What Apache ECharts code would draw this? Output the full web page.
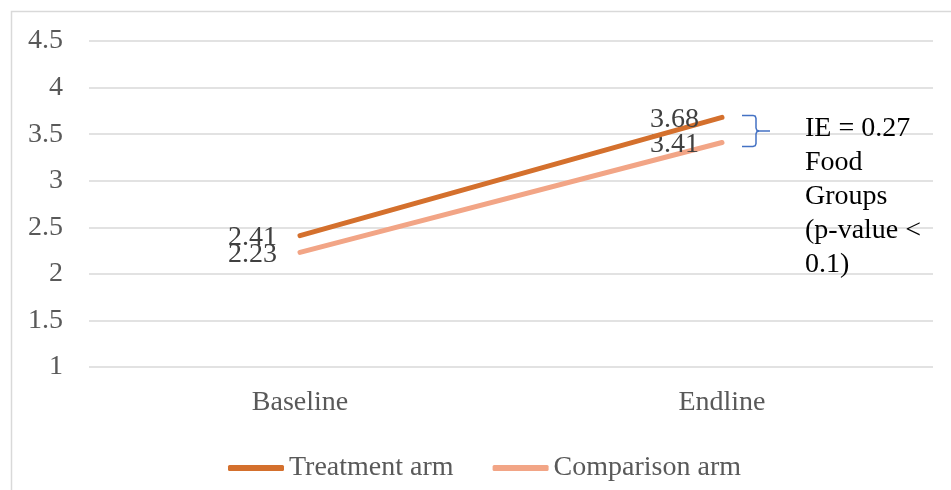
<!DOCTYPE html>
<html>
<head>
<meta charset="utf-8">
<script src="https://cdn.jsdelivr.net/npm/echarts@6/dist/echarts.min.js"></script>
<style>
html,body{margin:0;padding:0;background:#fff;}
#chart{width:951px;height:490px;}
</style>
</head>
<body>
<div id="chart"></div>
<script>
var categories = ['Baseline', 'Endline'];
var treatmentValues = [2.41, 3.68];
var comparisonValues = [2.23, 3.41];
var seriesNames = ['Treatment arm', 'Comparison arm'];
var annotationLines = ['IE = 0.27', 'Food', 'Groups', '(p-value <', '0.1)'];

var FONT = '"Liberation Serif", "Times New Roman", serif';
var chart = echarts.init(document.getElementById('chart'));

function labelCfg() {
  return {
    show: true, position: 'left', distance: 22, offset: [0, 2],
    fontFamily: FONT, fontSize: 28, color: '#404040',
    formatter: function (p) { return Number(p.value).toFixed(2); }
  };
}

chart.setOption({
  animation: false,
  grid: { left: 89, right: 18, top: 41, bottom: 123, containLabel: false },
  xAxis: {
    type: 'category', data: categories, boundaryGap: true,
    axisLine: { show: false }, axisTick: { show: false },
    axisLabel: { fontFamily: FONT, fontSize: 28, color: '#595959', margin: 22 }
  },
  yAxis: {
    type: 'value', min: 1, max: 4.5, interval: 0.5,
    axisLine: { show: false }, axisTick: { show: false },
    axisLabel: { fontFamily: FONT, fontSize: 28, color: '#595959', margin: 26 },
    splitLine: { lineStyle: { color: '#d9d9d9', width: 1.5 } }
  },
  legend: {
    left: 223, top: 449, itemGap: 39, itemWidth: 56, itemHeight: 6,
    icon: 'roundRect',
    textStyle: { fontFamily: FONT, fontSize: 28, color: '#595959' },
    data: seriesNames
  },
  series: [
    {
      name: seriesNames[0], type: 'line', data: treatmentValues,
      symbol: 'circle', symbolSize: 2, showSymbol: true, color: '#D4702D',
      itemStyle: { color: '#D4702D' },
      lineStyle: { width: 5, color: '#D4702D', cap: 'round' },
      label: labelCfg(), z: 3
    },
    {
      name: seriesNames[1], type: 'line', data: comparisonValues,
      symbol: 'circle', symbolSize: 2, showSymbol: true, color: '#F2A586',
      itemStyle: { color: '#F2A586' },
      lineStyle: { width: 5, color: '#F2A586', cap: 'round' },
      label: labelCfg(), z: 2
    }
  ]
});

function drawExtras() {
  var yTop = chart.convertToPixel({ yAxisIndex: 0 }, treatmentValues[1]) - 2;
  var yBot = chart.convertToPixel({ yAxisIndex: 0 }, comparisonValues[1]) + 4;
  var xEnd = chart.convertToPixel({ xAxisIndex: 0 }, categories[1]);
  var x0 = xEnd + 20, xv = xEnd + 34, xt = xEnd + 48;
  var ym = (yTop + yBot) / 2;
  var r = 3;
  var upper = [[x0, yTop], [xv - r, yTop], [xv - 0.8, yTop + 0.8], [xv, yTop + r],
               [xv, ym - r], [xv + 0.8, ym - 0.8], [xv + r, ym], [xt, ym]];
  var lower = [[xv + r, ym], [xv + 0.8, ym + 0.8], [xv, ym + r],
               [xv, yBot - r], [xv - 0.8, yBot - 0.8], [xv - r, yBot], [x0, yBot]];
  chart.setOption({
    graphic: [
      {
        type: 'rect', silent: true,
        shape: { x: 11.5, y: 11.5, width: 1000, height: 1000 },
        style: { fill: 'none', stroke: '#d9d9d9', lineWidth: 1.5 }
      },
      {
        type: 'polyline', silent: true,
        shape: { points: upper },
        style: { fill: null, stroke: '#4472C4', lineWidth: 1.5 }
      },
      {
        type: 'polyline', silent: true,
        shape: { points: lower },
        style: { fill: null, stroke: '#4472C4', lineWidth: 1.5 }
      },
      {
        type: 'text', silent: true, x: xEnd + 83, y: ym - 19,
        style: {
          text: annotationLines.join('\n'),
          fontFamily: FONT, fontSize: 28, lineHeight: 34,
          fill: '#000000', align: 'left', verticalAlign: 'top'
        }
      }
    ]
  });
}
drawExtras();
</script>
</body>
</html>
